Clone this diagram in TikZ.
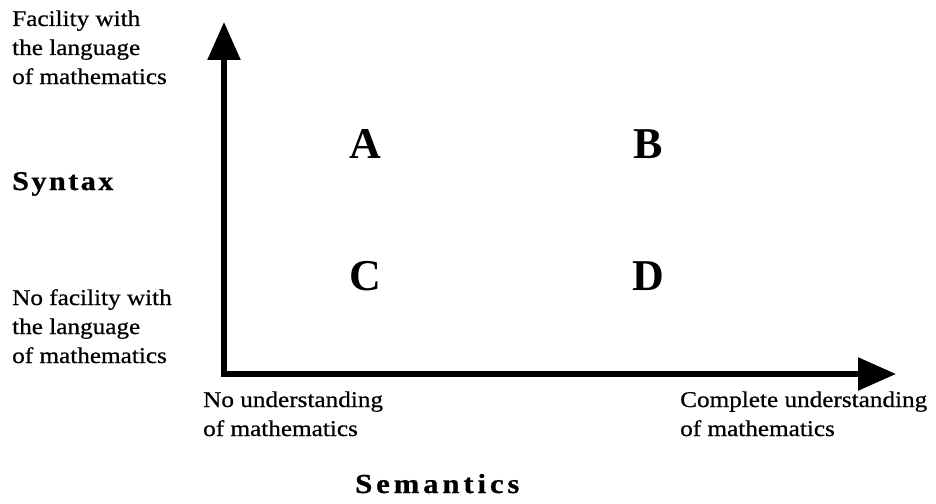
\documentclass[tikz,border=0pt]{standalone}
\usepackage{fontspec}
\setmainfont{Liberation Serif}[FakeStretch=1.12, FakeBold=0.7]
\newfontfamily\letterfont{Liberation Serif}
\usetikzlibrary{arrows.meta}
\tikzset{
  lbl/.style={anchor=base west, inner sep=0pt, font=\fontsize{22.5}{26}\selectfont},
  title/.style={anchor=base west, inner sep=0pt, font=\fontsize{27}{32}\selectfont\bfseries\addfontfeature{LetterSpace=9}},
  widetitle/.style={title, font=\fontsize{27.5}{32}\selectfont\bfseries\addfontfeature{LetterSpace=14}},
  cell/.style={anchor=center, inner sep=0pt, font=\fontsize{44}{50}\selectfont\letterfont\bfseries},
  axis/.style={line width=5.5pt, {Triangle[length=38pt,width=32pt]}-{Triangle[length=38pt,width=32pt]}}
}
\begin{document}
\begin{tikzpicture}[x=1pt,y=-1pt]
\useasboundingbox (0,0) rectangle (936,503);
\coordinate (ytip) at (224,22);
\coordinate (orig) at (224,374);
\coordinate (xtip) at (896,374);
\draw[axis] (ytip) -- (orig) -- (xtip);
\node[lbl] (f1) at (12,26) {Facility with};
\node[lbl] (f2) at (12,55) {the language};
\node[lbl] (f3) at (12,84) {of mathematics};
\node[title] (syn) at (12,190) {Syntax};
\node[lbl] (n1) at (12,305) {No facility with};
\node[lbl] (n2) at (12,334) {the language};
\node[lbl] (n3) at (12,363) {of mathematics};
\node[cell] (A) at (365,144) {A};
\node[cell] (B) at (648,144) {B};
\node[cell] (C) at (365,276) {C};
\node[cell] (D) at (648,276) {D};
\node[lbl] (u1) at (203,407) {No understanding};
\node[lbl] (u2) at (203,436) {of mathematics};
\node[lbl] (c1) at (680,407) {Complete understanding};
\node[lbl] (c2) at (680,436) {of mathematics};
\node[widetitle] (sem) at (355,493) {Semantics};
\end{tikzpicture}
\end{document}
